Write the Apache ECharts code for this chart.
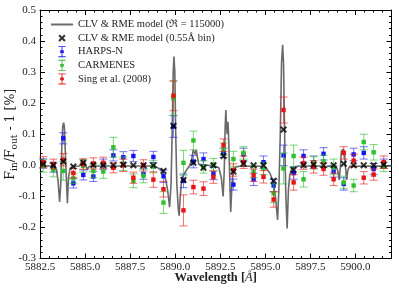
<!DOCTYPE html>
<html>
<head>
<meta charset="utf-8">
<script src="https://cdn.jsdelivr.net/npm/echarts@6/dist/echarts.min.js"></script>
<style>
html,body{margin:0;padding:0;background:#fff;}
#chart{width:399px;height:292px;}
</style>
</head>
<body>
<div id="chart"></div>
<script>
// ---- data ----
const binWave = [5882.68,5883.24,5883.79,5884.35,5884.90,5885.46,5886.01,5886.57,5887.12,5887.68,
  5888.24,5888.79,5889.35,5889.90,5890.46,5891.01,5891.57,5892.12,5892.68,5893.23,
  5893.79,5894.35,5894.90,5895.46,5896.01,5896.57,5897.12,5897.68,5898.23,5898.79,
  5899.35,5899.90,5900.46,5901.01,5901.57];
const modelBinned = [0.004,0.000,0.012,-0.004,0.008,0.001,0.000,0.000,0.002,0.000,
  0.000,0.000,-0.018,0.127,-0.047,0.008,-0.008,0.000,0.030,-0.020,
  0.005,0.000,0.000,-0.050,0.115,-0.015,0.000,0.002,0.000,0.000,
  0.005,0.000,0.000,0.000,0.002];
const harpsVal = [0.006,-0.006,0.087,-0.058,-0.031,-0.036,0.003,0.032,0.026,0.030,
  -0.028,0.027,-0.035,0.125,-0.050,0.012,0.020,-0.026,0.040,-0.062,
  0.035,-0.045,0.010,-0.065,0.032,-0.025,0.030,0.010,0.037,-0.020,
  -0.060,0.035,0.040,-0.012,0.005];
const harpsErr = [0.015,0.016,0.018,0.015,0.016,0.016,0.017,0.018,0.018,0.018,
  0.017,0.018,0.020,0.035,0.022,0.020,0.020,0.020,0.015,0.018,
  0.020,0.020,0.020,0.020,0.033,0.020,0.020,0.020,0.020,0.018,
  0.020,0.020,0.020,0.018,0.015];
const carmVal = [-0.002,-0.015,-0.018,-0.042,-0.002,-0.018,-0.020,0.058,0.005,-0.050,
  -0.034,-0.004,-0.120,0.216,0.008,0.080,-0.005,0.002,0.052,0.020,
  0.040,-0.020,-0.010,-0.090,-0.010,0.030,-0.045,0.008,0.013,-0.005,
  -0.055,-0.065,0.075,0.042,-0.005];
const carmErr = [0.020,0.022,0.030,0.016,0.020,0.022,0.022,0.032,0.022,0.022,
  0.022,0.020,0.035,0.055,0.040,0.030,0.020,0.020,0.020,0.025,
  0.020,0.020,0.020,0.030,0.050,0.035,0.025,0.020,0.020,0.025,
  0.020,0.020,0.025,0.025,0.015];
const singVal = [0.010,0.004,0.018,-0.025,0.004,0.006,0.008,-0.008,0.000,-0.040,
  0.000,-0.046,-0.077,0.224,-0.145,-0.070,-0.075,-0.038,0.065,-0.015,
  0.010,-0.032,-0.037,-0.110,0.178,-0.055,0.007,-0.005,-0.012,-0.045,
  0.040,0.015,-0.040,-0.030,0.010];
const singErr = [0.018,0.016,0.020,0.015,0.017,0.018,0.018,0.016,0.020,0.018,
  0.018,0.025,0.025,0.048,0.050,0.022,0.022,0.020,0.020,0.020,
  0.020,0.020,0.020,0.025,0.042,0.025,0.020,0.020,0.020,0.020,
  0.020,0.020,0.020,0.018,0.020];
const modelWave = [5882.50,5883.03,5883.31,5883.42,5883.50,5883.59,5883.66,5883.71,5883.76,5883.81,
  5883.85,5883.90,5883.96,5884.02,5884.08,5884.17,5884.31,5884.69,5884.81,5884.89,
  5884.97,5885.06,5885.13,5885.19,5885.31,5885.81,5886.92,5888.03,5888.58,5888.92,
  5889.14,5889.31,5889.47,5889.58,5889.69,5889.77,5889.83,5889.89,5889.93,5889.98,
  5890.03,5890.09,5890.17,5890.22,5890.28,5890.36,5890.47,5890.58,5890.69,5890.81,
  5890.92,5891.00,5891.06,5891.11,5891.17,5891.22,5891.31,5891.42,5892.19,5892.42,
  5892.56,5892.66,5892.72,5892.77,5892.81,5892.85,5892.89,5892.93,5892.97,5893.03,
  5893.08,5893.15,5893.22,5893.36,5893.58,5894.81,5895.03,5895.25,5895.42,5895.56,
  5895.68,5895.75,5895.83,5895.90,5895.96,5896.01,5896.07,5896.14,5896.21,5896.28,
  5896.36,5896.47,5896.69,5896.92,5898.03,5898.31,5898.47,5898.92,5899.03,5899.10,
  5899.17,5899.22,5899.31,5899.39,5899.44,5899.51,5899.58,5899.69,5901.36,5901.53,
  5901.69,5902.00];
const modelFlux = [-0.002,-0.002,-0.004,-0.015,-0.050,-0.118,-0.050,0.060,0.125,0.137,
  0.125,0.050,-0.040,-0.122,-0.040,-0.010,-0.003,-0.002,0.012,0.020,
  0.015,-0.002,-0.015,-0.006,-0.002,-0.002,-0.002,-0.002,-0.002,-0.004,
  -0.012,-0.022,-0.045,-0.080,-0.135,-0.060,0.100,0.300,0.350,0.300,
  0.100,-0.060,-0.140,-0.162,-0.100,-0.045,-0.030,-0.020,-0.010,0.000,
  0.020,0.050,0.055,0.035,0.050,0.030,0.003,-0.002,-0.002,-0.008,
  -0.040,-0.100,-0.020,0.120,0.178,0.120,0.100,0.140,0.080,-0.050,
  -0.150,-0.060,-0.015,-0.005,-0.003,-0.003,-0.008,-0.025,-0.050,-0.100,
  -0.176,-0.080,0.100,0.330,0.388,0.330,0.100,-0.100,-0.203,-0.080,
  -0.030,-0.010,-0.004,-0.002,-0.002,-0.006,-0.002,-0.003,-0.020,-0.047,
  0.000,0.045,0.052,0.045,0.000,-0.047,-0.015,-0.003,-0.002,-0.010,
  -0.003,-0.002];
const legendNames = ['CLV & RME model (ℜ = 115000)','CLV & RME model (0.55Å bin)','HARPS-N','CARMENES','Sing et al. (2008)'];

// ---- chart ----
const FONT = '"Liberation Serif", "DejaVu Serif", serif';
const chart = echarts.init(document.getElementById('chart'), null, {renderer:'canvas'});

function errSeries(name, vals, errs, color, light){
  return {
    name: name, type: 'custom', z: 3,
    itemStyle: {color: color},
    encode: {x: 0, y: 1},
    data: binWave.map((w,i)=>[w, vals[i], errs[i]]),
    renderItem: function(params, api){
      const x = api.value(0), y = api.value(1), e = api.value(2);
      const p = api.coord([x, y]);
      const t = api.coord([x, y + e]);
      const b = api.coord([x, y - e]);
      const c = 4;
      const ls = {stroke: light, lineWidth: 1.1};
      return {type:'group', children:[
        {type:'line', shape:{x1:p[0], y1:t[1], x2:p[0], y2:b[1]}, style:ls},
        {type:'line', shape:{x1:p[0]-c, y1:t[1], x2:p[0]+c, y2:t[1]}, style:ls},
        {type:'line', shape:{x1:p[0]-c, y1:b[1], x2:p[0]+c, y2:b[1]}, style:ls},
        {type:'rect', shape:{x:p[0]-2.2, y:p[1]-2.2, width:4.4, height:4.4}, style:{fill: color}}
      ]};
    }
  };
}

const errIcon = 'path://M0,0 L8,0 L8,1 L4.5,1 L4.5,4.5 L6,4.5 L6,7.5 L4.5,7.5 L4.5,11 L8,11 L8,12 L0,12 L0,11 L3.5,11 L3.5,7.5 L2,7.5 L2,4.5 L3.5,4.5 L3.5,1 L0,1 Z';
const xIcon = 'path://M0,2 L2,0 L5,3 L8,0 L10,2 L7,5 L10,8 L8,10 L5,7 L2,10 L0,8 L3,5 Z';
const xLegendIcon = 'path://M-2.5,-2.5 L-2.49,-2.5 L-2.5,-2.49 Z M12.5,12.5 L12.49,12.5 L12.5,12.49 Z M0,2 L2,0 L5,3 L8,0 L10,2 L7,5 L10,8 L8,10 L5,7 L2,10 L0,8 L3,5 Z';

const tickCommon = {show:true, inside:true, length:5, lineStyle:{color:'#000', width:1}};
const minorCommon = {show:true, splitNumber:5, length:2.5, lineStyle:{color:'#000', width:1}};
const lineCommon = {show:true, onZero:false, lineStyle:{color:'#000', width:1}};

const option = {
  animation: false,
  backgroundColor: '#fff',
  grid: {left: 40, right: 7.5, top: 10, bottom: 33.5, containLabel: false, outerBoundsMode: 'none'},
  legend: {
    orient: 'vertical', left: 46, top: 14,
    itemWidth: 22, itemHeight: 11, itemGap: 2.6,
    textStyle: {fontFamily: FONT, fontSize: 10.5, color: '#222'},
    data: [
      {name: legendNames[0], icon: 'path://M0,0 L22,0 L22,2 L0,2 Z', itemStyle:{color:'#6a6a6a'}},
      {name: legendNames[1], icon: xLegendIcon, itemStyle:{color:'#000'}},
      {name: legendNames[2], icon: errIcon, itemStyle:{color:'#2222ee'}},
      {name: legendNames[3], icon: errIcon, itemStyle:{color:'#33bb33'}},
      {name: legendNames[4], icon: errIcon, itemStyle:{color:'#e01818'}}
    ]
  },
  xAxis: [
    {type:'value', position:'bottom', min:5882.5, max:5902, interval:2.5,
     axisLine: lineCommon, axisTick: tickCommon, minorTick: minorCommon,
     splitLine:{show:false},
     axisLabel:{fontFamily: FONT, fontSize: 11, color:'#222', margin: 3, showMaxLabel:false,
       formatter: v => v.toFixed(1)},
     name: '{b|Wavelength [}{i|Å}{b|]}', nameLocation:'middle', nameGap: 13, nameMoveOverlap: false,
     nameTextStyle:{rich:{
       b:{fontFamily: FONT, fontSize: 12.5, fontWeight:'bold', color:'#222'},
       i:{fontFamily: FONT, fontSize: 12.5, fontStyle:'italic', color:'#222'}}}
    },
    {type:'value', position:'top', min:5882.5, max:5902, interval:2.5,
     axisLine: lineCommon, axisTick: tickCommon, minorTick: minorCommon,
     splitLine:{show:false}, axisLabel:{show:false}}
  ],
  yAxis: [
    {type:'value', position:'left', min:-0.3, max:0.5, interval:0.1,
     axisLine: lineCommon, axisTick: tickCommon, minorTick: minorCommon,
     splitLine:{show:false},
     axisLabel:{fontFamily: FONT, fontSize: 11, color:'#222', margin: 4,
       formatter: v => v.toFixed(1)},
     name: '{f|F}{s|in}{f|/F}{s|out}{f| - 1 [%]}', nameLocation:'middle', nameGap: 21, nameRotate: 90,
     nameMoveOverlap: false,
     nameTextStyle:{rich:{
       f:{fontFamily:'"DejaVu Serif", serif', fontSize: 12.5, color:'#222', lineHeight: 16},
       s:{fontFamily:'"DejaVu Serif", serif', fontSize: 9, color:'#222', lineHeight: 9, verticalAlign:'bottom'}}}
    },
    {type:'value', position:'right', min:-0.3, max:0.5, interval:0.1,
     axisLine: lineCommon, axisTick: tickCommon, minorTick: minorCommon,
     splitLine:{show:false}, axisLabel:{show:false}}
  ],
  series: [
    {name: legendNames[0], type:'line', z: 2, showSymbol:false, symbol:'none',
     data: modelWave.map((w,i)=>[w, modelFlux[i]]),
     lineStyle:{color:'#6a6a6a', width:1.6}, itemStyle:{color:'#6a6a6a'}},
    errSeries(legendNames[2], harpsVal, harpsErr, '#1515f0', 'rgba(40,40,240,0.6)'),
    errSeries(legendNames[3], carmVal, carmErr, '#2fbf2f', 'rgba(50,190,50,0.6)'),
    errSeries(legendNames[4], singVal, singErr, '#e81414', 'rgba(232,30,30,0.6)'),
    {name: legendNames[1], type:'scatter', z: 5, symbol: xIcon, symbolSize: 7,
     data: binWave.map((w,i)=>[w, modelBinned[i]]), itemStyle:{color:'#000'}}
  ]
};
chart.setOption(option);
</script>
</body>
</html>
